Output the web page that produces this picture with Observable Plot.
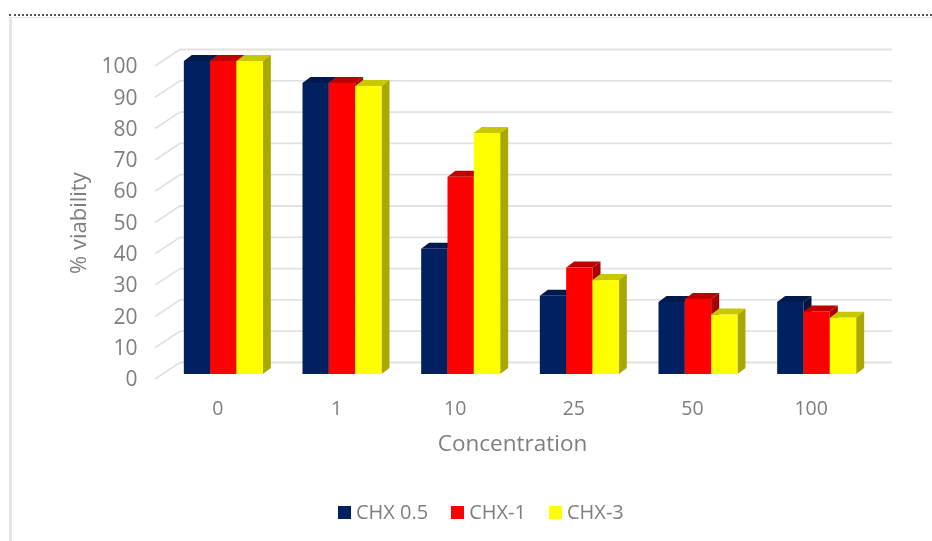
<!DOCTYPE html>
<html><head><meta charset="utf-8">
<script src="https://cdn.jsdelivr.net/npm/d3@7"></script>
<script src="https://cdn.jsdelivr.net/npm/@observablehq/plot@0.6"></script>
<style>
html,body{margin:0;padding:0;background:#fff;font-family:"Open Sans",sans-serif;overflow:hidden}
#wrap{position:relative;width:932px;height:541px;overflow:hidden;filter:blur(0.5px)}
#dots{position:absolute;left:9px;right:0;top:14px;border-top:2px dotted #555}
#frame{position:absolute;left:9px;top:17px;width:930px;height:530px;border-style:solid;border-color:#e6e6e6;border-width:1px 0 0 3px}
#chart{position:absolute;left:0;top:0}
#legend{position:absolute;top:502px;left:338px;display:flex;font-size:20px;color:#7f7f7f;line-height:20px}
#legend span{display:flex;align-items:center;margin-right:23px}
#legend i{display:inline-block;width:13px;height:13px;margin-right:5px}
</style></head><body>
<div id="wrap"><div id="dots"></div><div id="frame"></div><div id="chart"></div><div id="legend"></div></div>
<script>
const concentrations = ["0","1","10","25","50","100"];
const seriesNames = ["CHX 0.5","CHX-1","CHX-3"];
const chx05 = [100,93,40,25,23,23];
const chx1 = [100,93,63,34,24,20];
const chx3 = [100,92,77,30,19,18];
const frontColors = ["#002060","#ff0000","#ffff00"];
const topColors = ["#001a4d","#c00000","#c8c800"];
const sideColors = ["#001540","#a80000","#a8a800"];
const yTicks = [0,10,20,30,40,50,60,70,80,90,100];

const barShare = 0.6656/3;
const rows = [];
concentrations.forEach((c,i)=>{
  [chx05,chx1,chx3].forEach((s,j)=>rows.push({
    group:i, series:seriesNames[j], value:s[i],
    x1:i+(j-1.5)*barShare, x2:i+(j-0.5)*barShare
  }));
});

const DX=8, DY=-6;
const backDY=-11.5;

function box3d(index,scales,values,dims,ctx,next){
  const g=next(index,scales,values,dims,ctx);
  const ns="http://www.w3.org/2000/svg";
  d3.select(g).selectAll("rect").each(function(){
    const r=d3.select(this), x=+r.attr("x"), y=+r.attr("y"), w=+r.attr("width"), h=+r.attr("height");
    const k=frontColors.indexOf(r.attr("fill"));
    const top=document.createElementNS(ns,"polygon");
    top.setAttribute("points",`${x},${y} ${x+DX},${y+DY} ${x+w+DX},${y+DY} ${x+w},${y}`);
    top.setAttribute("fill",topColors[k]);
    const side=document.createElementNS(ns,"polygon");
    side.setAttribute("points",`${x+w},${y} ${x+w+DX},${y+DY} ${x+w+DX},${y+h+DY} ${x+w},${y+h}`);
    side.setAttribute("fill",sideColors[k]);
    this.parentNode.insertBefore(top,this);
    this.parentNode.insertBefore(side,this);
  });
  return g;
}

function wall(index,scales,values,dims){
  const g=d3.create("svg:g").attr("stroke","#e2e2e2").attr("stroke-width",1.8).attr("fill","none");
  const L=dims.marginLeft;
  for(const i of index){
    const y=values.y[i];
    g.append("path").attr("d",`M${L-9},${y+5}L${L+16},${y+backDY}L892,${y+backDY}`);
  }
  return g.node();
}

const chart = Plot.plot({
  width:932,height:500,
  marginLeft:164,marginRight:56,marginTop:61,marginBottom:126,
  style:{fontFamily:'"Open Sans",sans-serif',background:"transparent",overflow:"visible"},
  x:{domain:[-0.5,5.5],axis:null,label:null},
  y:{domain:[0,100],label:null,axis:null},
  color:{domain:seriesNames,range:frontColors},
  marks:[
    Plot.ruleY(yTicks,{y:d=>d,render:wall}),
    Plot.rectY(rows,{x1:"x1",x2:"x2",y:"value",fill:"series",render:box3d}),
    Plot.axisY({ticks:yTicks,anchor:"left",tickSize:0,tickPadding:27,dy:5,fontSize:21,fill:"#7f7f7f",label:null}),
    Plot.axisX({ticks:d3.range(concentrations.length),tickFormat:i=>concentrations[i],anchor:"bottom",tickSize:0,tickPadding:27,dx:-6,fontSize:19.5,fill:"#7f7f7f",label:null}),
    Plot.text(["Concentration"],{frameAnchor:"bottom",text:d=>d,fontSize:22.5,fill:"#7f7f7f",dx:-8,dy:76}),
    Plot.text(["% viability"],{frameAnchor:"left",text:d=>d,rotate:-90,fontSize:22,fill:"#7f7f7f",dx:-86,dy:56})
  ]
});
document.getElementById("chart").append(chart);
const leg=document.getElementById("legend");
seriesNames.forEach((s,i)=>{
  const sp=document.createElement("span");
  sp.innerHTML=`<i style="background:${frontColors[i]}"></i>${s}`;
  leg.append(sp);
});
</script></body></html>
